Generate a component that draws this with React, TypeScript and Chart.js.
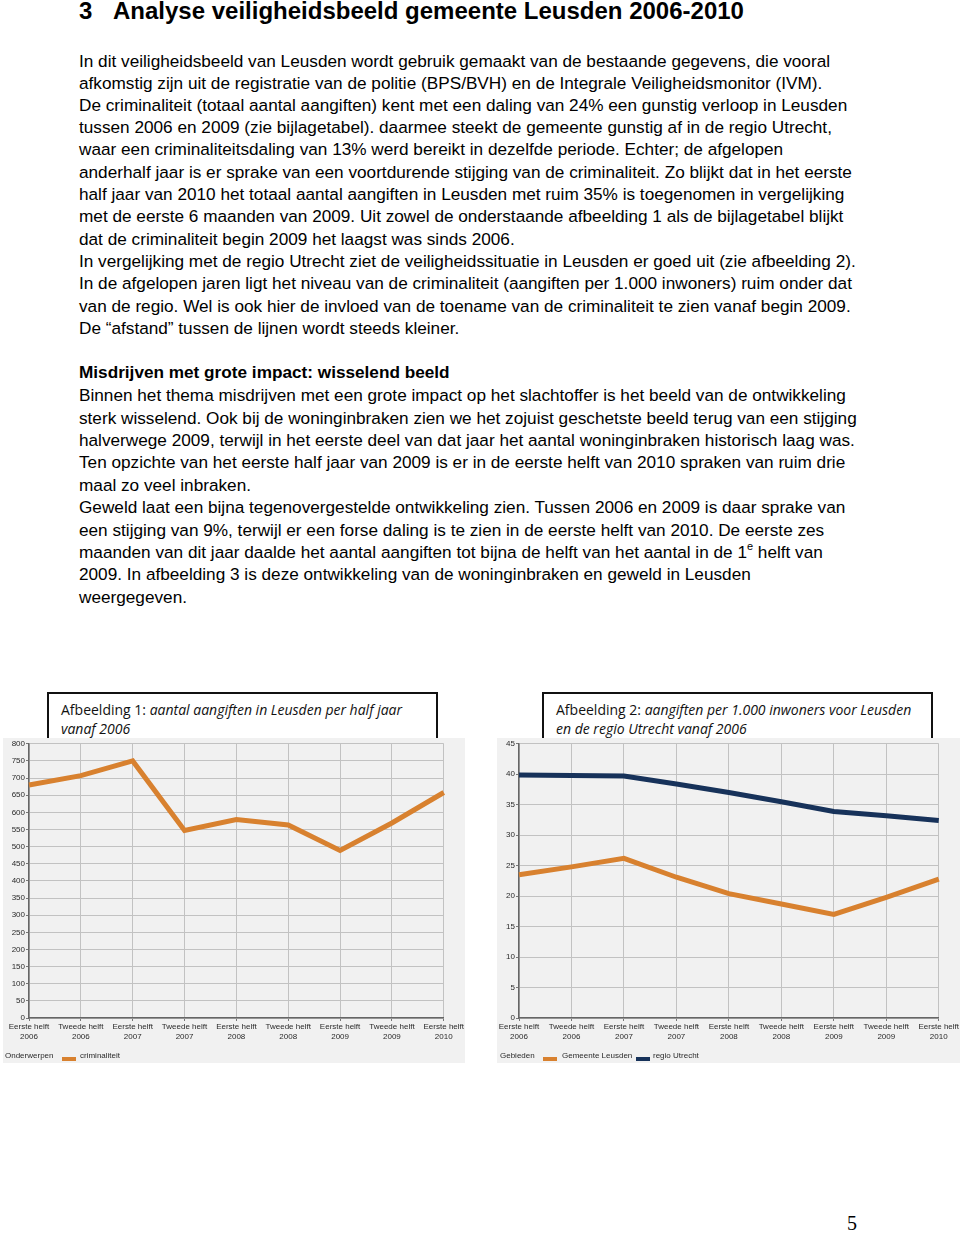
import React, { useEffect, useRef } from "react";
import { Chart, registerables } from "chart.js";

Chart.register(...registerables);

// ---------- data ----------
const periodLabels: string[][] = [
  ["Eerste helft", "2006"],
  ["Tweede helft", "2006"],
  ["Eerste helft", "2007"],
  ["Tweede helft", "2007"],
  ["Eerste helft", "2008"],
  ["Tweede helft", "2008"],
  ["Eerste helft", "2009"],
  ["Tweede helft", "2009"],
  ["Eerste helft", "2010"],
];
const criminaliteit = [680, 707, 750, 547, 579, 563, 489, 569, 658];
const leusdenPer1000 = [23.5, 24.8, 26.2, 23.1, 20.4, 18.7, 17.0, 19.8, 22.8];
const utrechtPer1000 = [39.9, 39.8, 39.7, 38.4, 37.0, 35.5, 33.9, 33.2, 32.4];

const para1: string[] = [
  "In dit veiligheidsbeeld van Leusden wordt gebruik gemaakt van de bestaande gegevens, die vooral",
  "afkomstig zijn uit de registratie van de politie (BPS/BVH) en de Integrale Veiligheidsmonitor (IVM).",
  "De criminaliteit (totaal aantal aangiften) kent met een daling van 24% een gunstig verloop in Leusden",
  "tussen 2006 en 2009 (zie bijlagetabel). daarmee steekt de gemeente gunstig af in de regio Utrecht,",
  "waar een criminaliteitsdaling van 13% werd bereikt in dezelfde periode. Echter; de afgelopen",
  "anderhalf jaar is er sprake van een voortdurende stijging van de criminaliteit. Zo blijkt dat in het eerste",
  "half jaar van 2010 het totaal aantal aangiften in Leusden met ruim 35% is toegenomen in vergelijking",
  "met de eerste 6 maanden van 2009. Uit zowel de onderstaande afbeelding 1 als de bijlagetabel blijkt",
  "dat de criminaliteit begin 2009 het laagst was sinds 2006.",
  "In vergelijking met de regio Utrecht ziet de veiligheidssituatie in Leusden er goed uit (zie afbeelding 2).",
  "In de afgelopen jaren ligt het niveau van de criminaliteit (aangiften per 1.000 inwoners) ruim onder dat",
  "van de regio. Wel is ook hier de invloed van de toename van de criminaliteit te zien vanaf begin 2009.",
  "De \u201Cafstand\u201D tussen de lijnen wordt steeds kleiner.",
];
const para1Y = [61, 83, 105, 127, 149, 172, 194, 216, 239, 261, 283, 306, 328];

const para2: string[] = [
  "Binnen het thema misdrijven met een grote impact op het slachtoffer is het beeld van de ontwikkeling",
  "sterk wisselend. Ook bij de woninginbraken zien we het zojuist geschetste beeld terug van een stijging",
  "halverwege 2009, terwijl in het eerste deel van dat jaar het aantal woninginbraken historisch laag was.",
  "Ten opzichte van het eerste half jaar van 2009 is er in de eerste helft van 2010 spraken van ruim drie",
  "maal zo veel inbraken.",
  "Geweld laat een bijna tegenovergestelde ontwikkeling zien. Tussen 2006 en 2009 is daar sprake van",
  "een stijging van 9%, terwijl er een forse daling is te zien in de eerste helft van 2010. De eerste zes",
  "maanden van dit jaar daalde het aantal aangiften tot bijna de helft van het aantal in de 1|e| helft van",
  "2009. In afbeelding 3 is deze ontwikkeling van de woninginbraken en geweld in Leusden",
  "weergegeven.",
];
const para2Y = [395, 418, 440, 462, 485, 507, 530, 552, 574, 597];

const ORANGE = "#D8812F";
const NAVY = "#17325A";
const PANEL = "#F1F1F1";

type DS = { data: number[]; color: string };

function LineChart(props: {
  datasets: DS[];
  max: number;
  step: number;
  yWidth: number;
  width: number;
  height: number;
}) {
  const ref = useRef<HTMLCanvasElement | null>(null);
  useEffect(() => {
    if (!ref.current) return;
    const tickFont = { family: "Liberation Sans", size: 8 };
    const chart = new Chart(ref.current, {
      type: "line",
      data: {
        labels: periodLabels,
        datasets: props.datasets.map((d) => ({
          data: d.data,
          borderColor: d.color,
          backgroundColor: d.color,
          borderWidth: 5,
          pointRadius: 0,
          tension: 0,
          fill: false,
          borderJoinStyle: "miter" as const,
        })),
      },
      options: {
        animation: false,
        responsive: false,
        maintainAspectRatio: false,
        layout: { padding: { top: 5, right: 18, left: 0, bottom: 0 } },
        plugins: { legend: { display: false }, tooltip: { enabled: false } },
        scales: {
          x: {
            offset: false,
            grid: { color: "#c2c2c2", lineWidth: 1, tickLength: 3, tickColor: "#777" },
            border: { color: "#666", width: 1.5 },
            ticks: {
              font: tickFont,
              color: "#2a2a2a",
              maxRotation: 0,
              minRotation: 0,
              autoSkip: false,
              padding: 1,
            },
            afterFit: (s: any) => {
              s.height = 45;
            },
          },
          y: {
            min: 0,
            max: props.max,
            grid: { color: "#c2c2c2", lineWidth: 1, tickLength: 3, tickColor: "#777" },
            border: { color: "#666", width: 1.5 },
            ticks: { stepSize: props.step, font: tickFont, color: "#2a2a2a", padding: 1 },
            afterFit: (s: any) => {
              s.width = props.yWidth;
            },
          },
        },
      },
    });
    return () => chart.destroy();
  }, []);
  return <canvas ref={ref} width={props.width} height={props.height} style={{ display: "block" }} />;
}

const bodyFont = "'Liberation Sans', Arial, Helvetica, sans-serif";

function Line(props: { y: number; text: string; bold?: boolean }) {
  const parts = props.text.split("|");
  return (
    <div
      style={{
        position: "absolute",
        left: 79,
        top: props.y - 11,
        fontFamily: bodyFont,
        fontSize: 17.2,
        lineHeight: "22px",
        whiteSpace: "nowrap",
        fontWeight: props.bold ? "bold" : "normal",
        color: "#000",
      }}
    >
      {parts.length === 3 ? (
        <>
          {parts[0]}
          <sup style={{ fontSize: 11, verticalAlign: "8px", lineHeight: 0 }}>{parts[1]}</sup>
          {parts[2]}
        </>
      ) : (
        props.text
      )}
    </div>
  );
}

function TitleBox(props: { left: number; width: number; plain: string; italic1: string; italic2: string }) {
  return (
    <div
      style={{
        position: "absolute",
        left: props.left,
        top: 692,
        width: props.width,
        height: 52,
        border: "2px solid #111",
        background: "#fff",
        boxSizing: "border-box",
        fontFamily: "'Open Sans', sans-serif",
        fontSize: 14,
        lineHeight: "19px",
        color: "#111",
        paddingLeft: 12,
        paddingTop: 6,
      }}
    >
      <div style={{ whiteSpace: "nowrap" }}>
        {props.plain}
        <i>{props.italic1}</i>
      </div>
      <div style={{ whiteSpace: "nowrap" }}>
        <i>{props.italic2}</i>
      </div>
    </div>
  );
}

const legendText: React.CSSProperties = {
  position: "absolute",
  top: 1050,
  fontFamily: bodyFont,
  fontSize: 8,
  lineHeight: "12px",
  color: "#2a2a2a",
  whiteSpace: "nowrap",
};

function Swatch(props: { left: number; color: string }) {
  return (
    <div
      style={{
        position: "absolute",
        left: props.left,
        top: 1057,
        width: 14,
        height: 4,
        background: props.color,
      }}
    />
  );
}

const headStyle: React.CSSProperties = {
  position: "absolute",
  top: -3,
  fontFamily: bodyFont,
  fontSize: 24,
  lineHeight: "28px",
  fontWeight: "bold",
  whiteSpace: "nowrap",
};

export default function App() {
  return (
    <div
      style={{
        position: "absolute",
        left: 0,
        top: 0,
        width: 960,
        height: 1234,
        background: "#fff",
        overflow: "hidden",
      }}
    >
      <div style={{ ...headStyle, left: 79 }}>3</div>
      <div style={{ ...headStyle, left: 113 }}>Analyse veiligheidsbeeld gemeente Leusden 2006-2010</div>

      {para1.map((t, i) => (
        <Line key={"a" + i} y={para1Y[i]} text={t} />
      ))}
      <Line y={372} text="Misdrijven met grote impact: wisselend beeld" bold />
      {para2.map((t, i) => (
        <Line key={"b" + i} y={para2Y[i]} text={t} />
      ))}

      <TitleBox
        left={47}
        width={391}
        plain="Afbeelding 1: "
        italic1="aantal aangiften in Leusden per half jaar"
        italic2="vanaf 2006"
      />
      <TitleBox
        left={542}
        width={391}
        plain="Afbeelding 2: "
        italic1="aangiften per 1.000 inwoners voor Leusden"
        italic2="en de regio Utrecht vanaf 2006"
      />

      <div style={{ position: "absolute", left: 3, top: 738, width: 462, height: 325, background: PANEL }}>
        <LineChart
          datasets={[{ data: criminaliteit, color: ORANGE }]}
          max={800}
          step={50}
          yWidth={26}
          width={462}
          height={325}
        />
      </div>
      <div style={{ position: "absolute", left: 497, top: 738, width: 463, height: 325, background: PANEL }}>
        <LineChart
          datasets={[
            { data: leusdenPer1000, color: ORANGE },
            { data: utrechtPer1000, color: NAVY },
          ]}
          max={45}
          step={5}
          yWidth={22}
          width={463}
          height={325}
        />
      </div>

      <div style={{ ...legendText, left: 5 }}>Onderwerpen</div>
      <Swatch left={62} color={ORANGE} />
      <div style={{ ...legendText, left: 80 }}>criminaliteit</div>

      <div style={{ ...legendText, left: 500 }}>Gebieden</div>
      <Swatch left={543} color={ORANGE} />
      <div style={{ ...legendText, left: 562 }}>Gemeente Leusden</div>
      <Swatch left={636} color={NAVY} />
      <div style={{ ...legendText, left: 653 }}>regio Utrecht</div>

      <div
        style={{
          position: "absolute",
          left: 847,
          top: 1211,
          fontFamily: "'Liberation Serif', serif",
          fontSize: 20,
          lineHeight: "24px",
        }}
      >
        5
      </div>
    </div>
  );
}
